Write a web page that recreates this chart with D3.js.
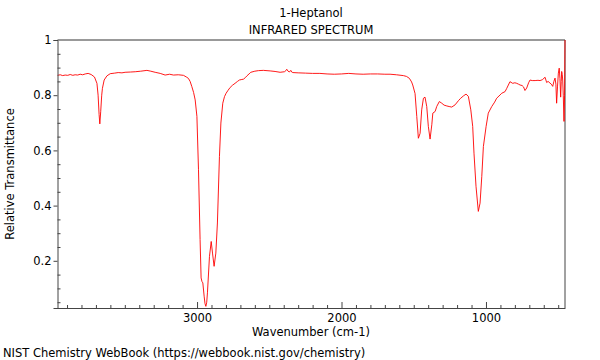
<!DOCTYPE html>
<html><head><meta charset="utf-8">
<script src="https://cdn.jsdelivr.net/npm/d3@7"></script>
<style>body{margin:0;background:#fff;} svg{display:block;} text{font-family:"DejaVu Sans",sans-serif;}</style>
</head><body>
<svg id="c" width="600" height="360"></svg>
<script>
const title = "1-Heptanol";
const subtitle = "INFRARED SPECTRUM";
const xLabel = "Wavenumber (cm-1)";
const yLabel = "Relative Transmittance";
const footer = "NIST Chemistry WebBook (https://webbook.nist.gov/chemistry)";
const xTicks = [3000, 2000, 1000];
const yTicks = [0.2, 0.4, 0.6, 0.8, 1];

const wavenumber = [3966,3947,3930,3913,3895,3878,3860,3844,3826,3809,3792,3774,3754,3733,3710,3693,3685,3678,3673,3667,3660,3655,3643,3624,3601,3570,3546,3520,3498,3460,3428,3390,3347,3320,3290,3255,3221,3190,3163,3130,3094,3071,3060,3048,3036,3024,3013,3001,2990,2979,2972,2966,2960,2951,2945,2939,2933,2928,2914,2902,2893,2882,2870,2859,2845,2835,2822,2810,2799,2785,2771,2755,2737,2720,2707,2690,2679,2665,2655,2640,2628,2600,2575,2541,2494,2460,2425,2395,2385,2379,2370,2361,2351,2345,2337,2300,2250,2200,2150,2100,2050,2000,1950,1900,1850,1800,1750,1700,1664,1620,1572,1550,1530,1515,1507,1491,1479,1468,1456,1445,1433,1422,1410,1399,1387,1375,1368,1352,1341,1323,1306,1290,1271,1255,1237,1214,1191,1175,1157,1138,1122,1105,1092,1083,1069,1053,1041,1029,1018,999,984,960,940,926,910,891,868,856,834,815,800,787,775,764,750,740,730,718,705,695,680,660,640,626,610,591,580,570,557,548,538,530,522,516,511,505,499,493,488,483,479,476,472,469,465,460,456,453];
const transmittance = [0.872,0.874,0.871,0.873,0.872,0.875,0.872,0.874,0.873,0.876,0.874,0.877,0.879,0.875,0.866,0.843,0.80,0.73,0.696,0.74,0.80,0.825,0.855,0.87,0.878,0.880,0.882,0.881,0.883,0.884,0.885,0.887,0.890,0.887,0.883,0.879,0.873,0.876,0.873,0.874,0.872,0.865,0.861,0.85,0.831,0.81,0.783,0.723,0.53,0.277,0.138,0.125,0.12,0.072,0.045,0.035,0.05,0.084,0.216,0.27,0.228,0.18,0.228,0.337,0.578,0.699,0.771,0.795,0.807,0.818,0.828,0.836,0.843,0.850,0.855,0.857,0.858,0.864,0.870,0.877,0.883,0.887,0.889,0.890,0.888,0.886,0.883,0.885,0.889,0.894,0.887,0.884,0.890,0.884,0.882,0.881,0.880,0.879,0.879,0.877,0.876,0.877,0.879,0.877,0.876,0.877,0.877,0.876,0.876,0.874,0.871,0.868,0.861,0.848,0.837,0.806,0.723,0.644,0.662,0.747,0.789,0.793,0.759,0.687,0.641,0.693,0.735,0.741,0.759,0.777,0.771,0.764,0.761,0.759,0.757,0.765,0.780,0.789,0.797,0.804,0.796,0.747,0.687,0.59,0.47,0.379,0.409,0.506,0.614,0.687,0.735,0.759,0.775,0.789,0.797,0.807,0.813,0.825,0.849,0.843,0.845,0.843,0.840,0.837,0.835,0.830,0.817,0.826,0.845,0.855,0.853,0.853,0.854,0.853,0.856,0.865,0.846,0.850,0.844,0.840,0.832,0.850,0.862,0.84,0.771,0.83,0.88,0.898,0.86,0.793,0.85,0.886,0.875,0.855,0.80,0.705,0.80,1.0];

const svg = d3.select("#c");
const L = 57.5, R = 565, T = 40, B = 308;
const FS = 11.5;
const x = d3.scaleLinear().domain([3966, 453]).range([L, R]);
const y = d3.scaleLinear().domain([0.029, 1]).range([B, T]);
const axisColor = "#444";

// frame: top border light gray
svg.append("line").attr("x1", L).attr("x2", R).attr("y1", T).attr("y2", T)
  .attr("stroke", "#999").attr("stroke-width", 2);
svg.append("line").attr("x1", R).attr("x2", R).attr("y1", T).attr("y2", B)
  .attr("stroke", axisColor).attr("stroke-width", 1);

// spectrum
const line = d3.line().x((d, i) => x(wavenumber[i])).y(d => y(d));
svg.append("path").datum(transmittance).attr("d", line)
  .attr("fill", "none").attr("stroke", "#ff0000").attr("stroke-width", 0.9)
  .attr("stroke-linejoin", "round");

// x axis (ticks pointing inward)
const xMinor = d3.range(500, 3901, 100).filter(v => !xTicks.includes(v));
const gx = svg.append("g").attr("transform", `translate(0,${B})`);
gx.call(d3.axisTop(x).tickValues(xMinor).tickSize(3).tickFormat(""));
gx.call(g => g.select(".domain").remove());
const gx2 = svg.append("g").attr("transform", `translate(0,${B})`);
gx2.call(d3.axisTop(x).tickValues(xTicks).tickSize(6).tickFormat(""));
gx2.call(g => g.select(".domain").remove());
const gxl = svg.append("g").attr("transform", `translate(0,${B})`);
gxl.call(d3.axisBottom(x).tickValues(xTicks).tickSize(0).tickPadding(6).tickFormat(d3.format("d")));
gxl.select(".domain").attr("stroke", axisColor);

// y axis
const yMinor = d3.range(0.05, 0.99, 0.05).filter(v => Math.abs(v*5 - Math.round(v*5)) > 1e-6);
const gy = svg.append("g").attr("transform", `translate(${L},0)`);
gy.call(d3.axisRight(y).tickValues(yMinor).tickSize(3).tickFormat(""));
gy.call(g => g.select(".domain").remove());
const gy2 = svg.append("g").attr("transform", `translate(${L},0)`);
gy2.call(d3.axisLeft(y).tickValues(yTicks).tickSize(4).tickPadding(2).tickFormat(d => d === 1 ? "1" : d3.format(".1f")(d)));
gy2.select(".domain").attr("stroke", axisColor);
svg.selectAll(".tick line").attr("stroke", axisColor);
svg.selectAll(".tick text").attr("font-family", "DejaVu Sans").attr("font-size", FS).attr("fill", "#000");

// texts
svg.append("text").attr("x", 311).attr("y", 17).attr("text-anchor", "middle").attr("font-size", FS).text(title);
svg.append("text").attr("x", 311).attr("y", 34).attr("text-anchor", "middle").attr("font-size", FS).text(subtitle);
svg.append("text").attr("x", 311).attr("y", 336).attr("text-anchor", "middle").attr("font-size", FS).text(xLabel);
svg.append("text").attr("transform", "translate(14,174) rotate(-90)").attr("text-anchor", "middle").attr("font-size", FS).text(yLabel);
svg.append("text").attr("x", 3).attr("y", 357).attr("font-size", FS).text(footer);
</script>
</body></html>
